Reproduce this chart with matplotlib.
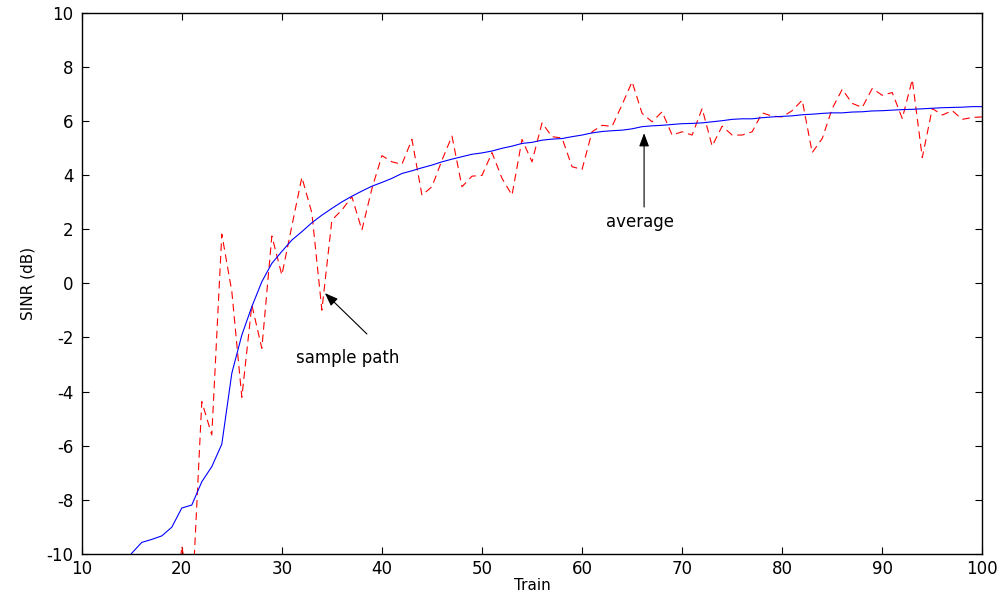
import matplotlib
matplotlib.use('Agg')
import matplotlib.pyplot as plt

plt.rcParams['font.family'] = ['DejaVu Sans']
plt.rcParams['lines.scale_dashes'] = False
plt.rcParams['axes.unicode_minus'] = False

# average SINR over the training length
avg_x = list(range(14, 101))
avg_y = [-10.5, -9.97, -9.57, -9.46, -9.33, -9.01,
         -8.3, -8.19, -7.33, -6.77, -5.94, -3.32, -1.91, -0.86, 0.06, 0.74,
         1.18, 1.6, 1.91, 2.24, 2.52, 2.77, 3.01, 3.22, 3.41, 3.59,
         3.73, 3.88, 4.06, 4.16, 4.27, 4.37, 4.49, 4.59, 4.68, 4.77,
         4.82, 4.89, 4.99, 5.07, 5.17, 5.21, 5.29, 5.33, 5.35, 5.42,
         5.48, 5.56, 5.61, 5.64, 5.66, 5.71, 5.79, 5.82, 5.84, 5.87,
         5.9, 5.91, 5.93, 5.97, 6.01, 6.06, 6.08, 6.08, 6.12, 6.15,
         6.17, 6.19, 6.23, 6.25, 6.28, 6.30, 6.30, 6.33, 6.34, 6.37,
         6.38, 6.40, 6.42, 6.43, 6.45, 6.47, 6.49, 6.50, 6.51, 6.53, 6.53]

# one sample path
path_x = list(range(19, 101))
path_y = [-14.0, -9.7, -12.0, -4.37, -5.6, 1.82, -0.3, -4.21, -0.8, -2.4, 1.75,
          0.31, 2.12, 3.92, 2.6, -0.99, 2.34, 2.71, 3.2, 1.97, 3.5,
          4.72, 4.49, 4.4, 5.32, 3.26, 3.57, 4.55, 5.44, 3.57, 3.96,
          3.99, 4.83, 3.88, 3.26, 5.32, 4.49, 5.93, 5.42, 5.37, 4.31,
          4.21, 5.6, 5.84, 5.8, 6.6, 7.45, 6.28, 5.97, 6.34, 5.48,
          5.6, 5.48, 6.46, 5.07, 5.81, 5.48, 5.48, 5.6, 6.3, 6.18,
          6.15, 6.38, 6.77, 4.83, 5.35, 6.46, 7.17, 6.65, 6.5, 7.2,
          6.95, 7.05, 6.09, 7.53, 4.65, 6.46, 6.22, 6.38, 6.06, 6.13, 6.15]

fig = plt.figure(figsize=(9.99, 5.94), dpi=100)
ax = fig.add_axes([0.0818, 0.0673, 0.9015, 0.9113])

ax.plot(path_x, path_y, color='red', linewidth=0.8, linestyle='--', dashes=(5.5, 3.5))
ax.plot(avg_x, avg_y, color='blue', linewidth=0.8)

ax.set_xlim(10, 100)
ax.set_ylim(-10, 10)
ax.set_xticks(range(10, 101, 10))
ax.set_yticks(range(-10, 11, 2))
ax.tick_params(direction='in', top=True, right=True, length=5, labelsize=12)
ax.tick_params(axis='x', pad=4)
ax.tick_params(axis='y', pad=6)
for s in ax.spines.values():
    s.set_linewidth(1.0)

ax.set_xlabel('Train', fontsize=11, labelpad=0)
ax.set_ylabel('SINR (dB)', fontsize=11, labelpad=8)

# labelled arrows
arrow = dict(arrowstyle='-|>,head_length=0.8,head_width=0.3', color='black',
             linewidth=0.8, shrinkA=0, shrinkB=0)
ax.annotate('', xy=(34.3, -0.36), xytext=(38.5, -1.87), arrowprops=arrow)
ax.text(36.6, -2.75, 'sample path', fontsize=12, ha='center', va='center')
ax.annotate('', xy=(66.2, 5.55), xytext=(66.2, 2.82), arrowprops=arrow)
ax.text(65.8, 2.25, 'average', fontsize=12, ha='center', va='center')

fig.savefig('out.png', dpi=100)
